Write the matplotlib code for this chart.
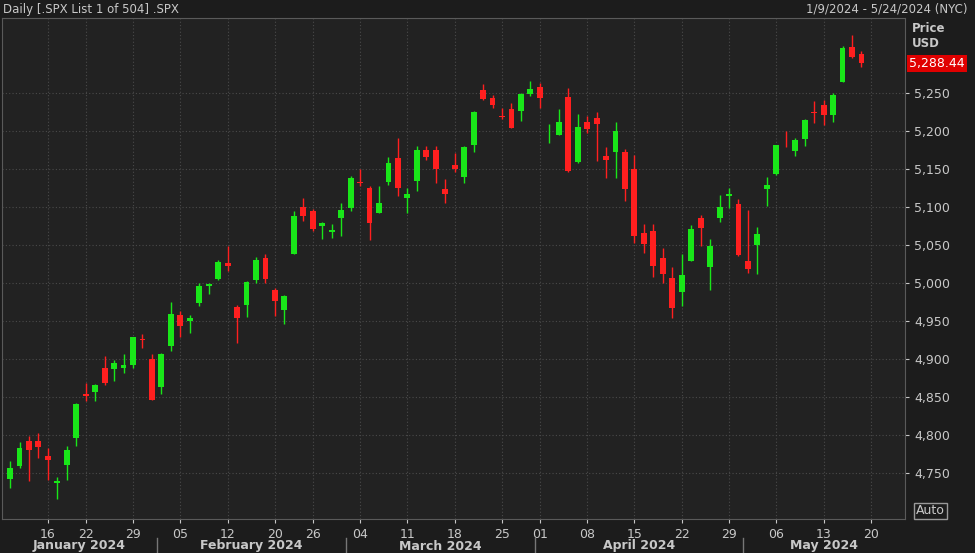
import matplotlib
matplotlib.use("Agg")
import matplotlib.pyplot as plt
import matplotlib.transforms as mtransforms
import numpy as np

dates = ["01-09","01-10","01-11","01-12","01-16","01-17","01-18","01-19","01-22","01-23","01-24","01-25","01-26",
"01-29","01-30","01-31","02-01","02-02","02-05","02-06","02-07","02-08","02-09","02-12","02-13","02-14","02-15","02-16",
"02-20","02-21","02-22","02-23","02-26","02-27","02-28","02-29","03-01","03-04","03-05","03-06","03-07","03-08",
"03-11","03-12","03-13","03-14","03-15","03-18","03-19","03-20","03-21","03-22","03-25","03-26","03-27","03-28",
"04-01","04-02","04-03","04-04","04-05","04-08","04-09","04-10","04-11","04-12","04-15","04-16","04-17","04-18","04-19",
"04-22","04-23","04-24","04-25","04-26","04-29","04-30","05-01","05-02","05-03","05-06","05-07","05-08","05-09","05-10",
"05-13","05-14","05-15","05-16","05-17"]
opens = [4741,4759,4792,4791,4772,4737,4760,4796,4853,4856,4888,4886,4888,4892,4925,4899,4862,4916,4957,4950,4973,4996,5005,
5026,4968,4970,5004,5032,4990,4964,5038,5100,5094,5074,5067,5085,5098,5131,5124,5092,5132,5164,5111,5134,5174,5175,5123,
5154,5139,5181,5253,5243,5219,5228,5226,5248,5257,5204,5194,5244,5158,5211,5217,5167,5172,5172,5149,5065,5068,5032,5006,
4988,5029,5085,5020,5085,5114,5103,5029,5049,5123,5143,5188,5173,5189,5225,5234,5221,5264,5310,5300]
highs = [4765,4790,4798,4802,4782,4744,4785,4842,4868,4866,4903,4898,4906,4929,4932,4906,4907,4975,4963,4957,5000,5000,5030,
5048,4970,5002,5033,5038,4993,4983,5094,5111,5097,5080,5077,5104,5140,5149,5127,5127,5165,5190,5125,5180,5180,5180,5136,
5170,5180,5226,5261,5247,5230,5236,5249,5265,5263,5209,5228,5256,5222,5219,5225,5178,5211,5176,5168,5077,5077,5046,5020,
5038,5076,5089,5057,5115,5124,5110,5096,5073,5139,5181,5200,5190,5215,5239,5240,5250,5311,5325,5305]
lows = [4730,4756,4739,4769,4740,4715,4740,4785,4844,4844,4865,4870,4881,4887,4914,4845,4853,4910,4928,4934,4969,4985,5004,
5015,4920,4955,4999,4999,4956,4946,5038,5081,5068,5057,5058,5061,5094,5127,5056,5092,5128,5114,5091,5121,5161,5131,5105,
5146,5131,5172,5240,5230,5215,5203,5213,5245,5230,5184,5194,5146,5157,5197,5160,5138,5138,5107,5052,5039,5007,4999,4954,
4969,5028,5048,4990,5080,5098,5035,5013,5011,5101,5142,5178,5166,5180,5210,5207,5211,5264,5296,5283]
closes = [4756,4783,4780,4784,4766,4739,4780,4840,4851,4865,4868,4894,4891,4928,4925,4846,4906,4959,4943,4954,4995,4998,5027,
5022,4953,5001,5030,5005,4976,4982,5087,5088,5070,5078,5069,5096,5137,5131,5079,5105,5157,5124,5117,5175,5165,5150,5117,
5149,5178,5225,5241,5234,5218,5203,5248,5254,5243,5205,5211,5147,5204,5202,5209,5161,5199,5123,5061,5051,5022,5011,4967,
5010,5070,5072,5048,5100,5116,5036,5018,5064,5128,5181,5187,5188,5214,5223,5221,5247,5308,5297,5288.44]
week_ticks = ["16","22","29","05","12","20","26","04","11","18","25","01","08","15","22","29","06","13","20"]
week_idx = [4,8,13,18,23,28,32,37,42,47,52,56,61,66,71,76,81,86,91]
months = ["January 2024","February 2024","March 2024","April 2024","May 2024"]
month_bounds = [-0.85,15.5,35.5,55.5,77.5,94.6]
yticks = [4750,4800,4850,4900,4950,5000,5050,5100,5150,5200,5250]

BG = "#1c1c1c"; PLOT = "#222222"; GREEN = "#19e619"; RED = "#ff1f1f"; TXT = "#c8c8c8"
fig = plt.figure(figsize=(9.75,5.53), dpi=100, facecolor=BG)
ax = fig.add_axes([2/975, 1-519/553, 903/975, 501/553], facecolor=PLOT)
x = np.arange(len(closes))
o = np.array(opens, float); c = np.array(closes, float)
cols = [GREEN if cc > oo else RED for oo, cc in zip(o, c)]
ax.vlines(x, lows, highs, colors=cols, linewidth=1, zorder=3)
body = np.maximum(np.abs(c - o), 1.0)
ax.bar(x, body, bottom=np.minimum(o, c), width=0.62, color=cols, zorder=4)
ax.set_xlim(-0.85, 94.6)
ax.set_ylim(4689, 5348)
ax.grid(True, color="#4a4a4a", linestyle=(0,(1,2)), linewidth=0.8)
ax.set_yticks(yticks)
ax.set_xticks(week_idx)
ax.set_xticklabels(week_ticks)
ax.yaxis.tick_right()
ax.set_yticklabels([f"{v:,}" for v in yticks])
ax.tick_params(colors=TXT, labelsize=9, length=3)
for sp in ax.spines.values():
    sp.set_color("#5a5a5a")
# month labels
tr = mtransforms.blended_transform_factory(ax.transData, fig.transFigure)
for i, m in enumerate(months):
    a, b = month_bounds[i], month_bounds[i+1]
    fig.text((a+b)/2, 1-546/553, m, transform=tr, ha="center", va="center", color=TXT, fontsize=9, fontweight="bold")
for b in month_bounds[1:-1]:
    fig.add_artist(plt.Line2D([b, b], [0, 1-538/553], transform=tr, color="#777777", linewidth=1))
# header
fig.text(3/975, 1-9/553, "Daily [.SPX List 1 of 504] .SPX", color=TXT, fontsize=8.5, va="center")
fig.text(968/975, 1-9/553, "1/9/2024 - 5/24/2024 (NYC)", color=TXT, fontsize=8.5, va="center", ha="right")
fig.text(912/975, 1-36/553, "Price\nUSD", color=TXT, fontsize=8.5, va="center", fontweight="bold", linespacing=1.2)
ax.annotate(f"{closes[-1]:,.2f}", xy=(1.0, closes[-1]), xycoords=("axes fraction", "data"),
            xytext=(3, 0), textcoords="offset points", va="center", ha="left", color="white", fontsize=9,
            bbox=dict(boxstyle="square,pad=0.15", fc="#e00000", ec="none"))
fig.text(916/975, 1-511/553, "Auto", color=TXT, fontsize=9, va="center",
         bbox=dict(boxstyle="square,pad=0.15", fc=BG, ec="#999999"))
fig.savefig("out.png", dpi=100, facecolor=BG)
